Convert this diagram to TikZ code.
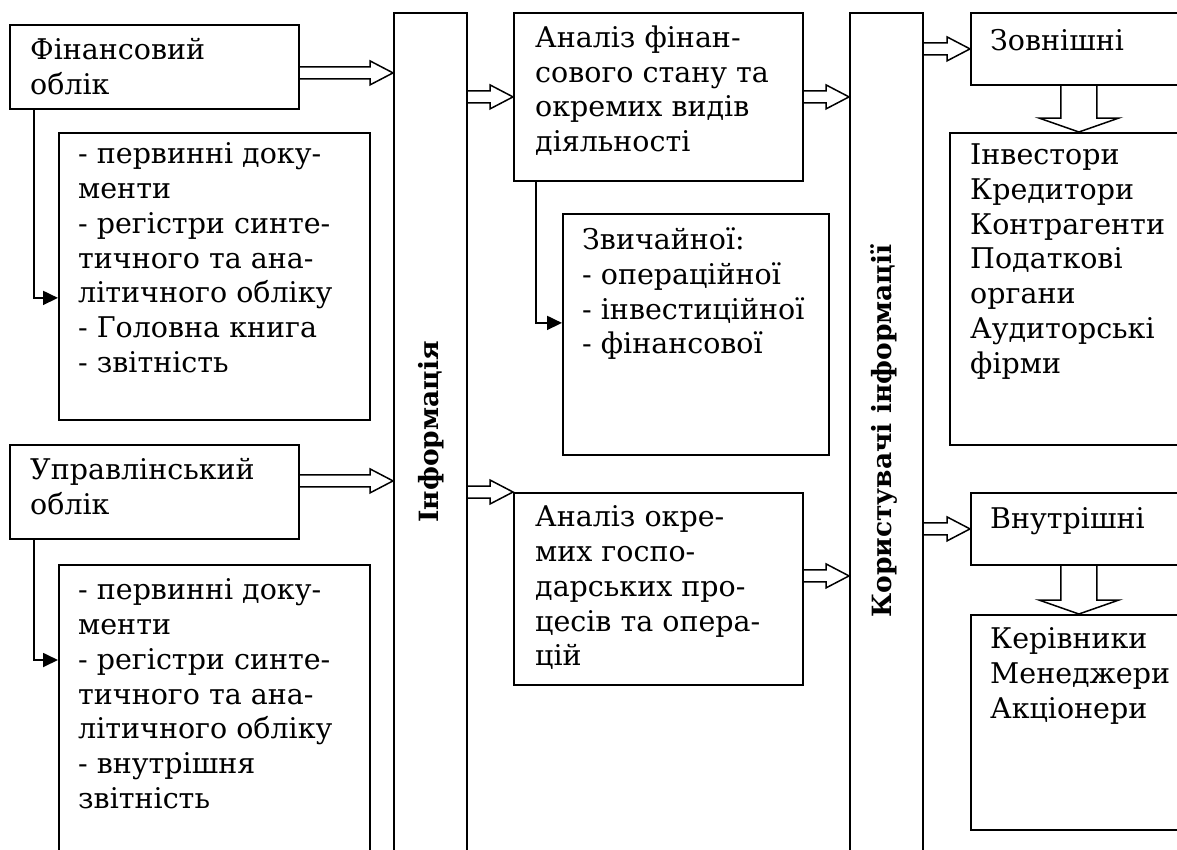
\documentclass[tikz,border=0pt]{standalone}
\usepackage{fontspec}
\setmainfont{DejaVu Serif}
\usetikzlibrary{arrows.meta,calc}
\begin{document}
\begin{tikzpicture}
      [
      x=1pt,y=-1pt,
      box/.style={draw,line width=1.8pt,rectangle,anchor=north west,inner sep=0pt},
      txt/.style={anchor=north west,align=left,inner sep=0pt,font=\fontsize{28.5}{34.8}\selectfont,execute at begin node=\strut},
      coltxt/.style={rotate=90,inner sep=0pt,font=\bfseries\fontsize{26.5}{32}\selectfont},
      harrow/.style={line width=1.5pt,to path={let \p1=(\tikztostart), \p2=(\tikztotarget) in
        (\x1,\y1+6pt) -- (\x2-23pt,\y1+6pt) -- (\x2-23pt,\y1+12pt) -- (\x2,\y1)
        -- (\x2-23pt,\y1-12pt) -- (\x2-23pt,\y1-6pt) -- (\x1,\y1-6pt)}},
      varrow/.style={line width=1.5pt,to path={let \p1=(\tikztostart), \p2=(\tikztotarget) in
        (\x1-18pt,\y1) -- (\x1-18pt,\y2+14pt) -- (\x1-40pt,\y2+14pt) -- (\x1,\y2)
        -- (\x1+40pt,\y2+14pt) -- (\x1+18pt,\y2+14pt) -- (\x1+18pt,\y1)}},
      bent/.style={line width=1.8pt,-{Triangle[length=15pt,width=14pt]}}
      ]
      \useasboundingbox (0,0) rectangle (1177,849);
      \clip (0,0) rectangle (1177,849);
      \node (fin) at (9,24) [box,minimum width=289pt,minimum height=84pt] {};
      \node (finList) at (58,132) [box,minimum width=311pt,minimum height=287pt] {};
      \node (upr) at (9,444) [box,minimum width=289pt,minimum height=94pt] {};
      \node (uprList) at (58,564) [box,minimum width=311pt,minimum height=330pt] {};
      \node (info) at (393,12) [box,minimum width=73pt,minimum height=860pt] {};
      \node (anFin) at (513,12) [box,minimum width=289pt,minimum height=168pt] {};
      \node (zvych) at (562,213) [box,minimum width=266pt,minimum height=241pt] {};
      \node (anProc) at (513,492) [box,minimum width=289pt,minimum height=192pt] {};
      \node (users) at (849,12) [box,minimum width=73pt,minimum height=860pt] {};
      \node (zovn) at (970,12) [box,minimum width=216pt,minimum height=72pt] {};
      \node (invest) at (949,132) [box,minimum width=258pt,minimum height=312pt] {};
      \node (vnutr) at (970,492) [box,minimum width=216pt,minimum height=72pt] {};
      \node (kerivn) at (970,614) [box,minimum width=216pt,minimum height=215pt] {};
      \node (finT) at (30,38.5) [txt] {Фінансовий\\облік};
      \node (finListT) at (78,142.5) [txt] {- первинні доку-\\менти\\- регістри синте-\\тичного та ана-\\літичного обліку\\- Головна книга\\- звітність};
      \node (uprT) at (30,458.5) [txt] {Управлінський\\облік};
      \node (uprListT) at (78,578.5) [txt] {- первинні доку-\\менти\\- регістри синте-\\тичного та ана-\\літичного обліку\\- внутрішня\\звітність};
      \node (infoT) at (431,432) [coltxt] {Інформація};
      \node (anFinT) at (535,25.5) [txt] {Аналіз фінан-\\сового стану та\\окремих видів\\діяльності};
      \node (zvychT) at (582,227.5) [txt] {Звичайної:\\- операційної\\- інвестиційної\\- фінансової};
      \node (anProcT) at (535,505.5) [txt] {Аналіз окре-\\мих госпо-\\дарських про-\\цесів та опера-\\цій};
      \node (usersT) at (884,431) [coltxt] {Користувачі інформації};
      \node (zovnT) at (990,25.5) [txt] {Зовнішні};
      \node (investT) at (970,143.5) [txt] {Інвестори\\Кредитори\\Контрагенти\\Податкові\\органи\\Аудиторські\\фірми};
      \node (vnutrT) at (990,503.5) [txt] {Внутрішні};
      \node (kerivnT) at (990,627.5) [txt] {Керівники\\Менеджери\\Акціонери};
      \draw [harrow] ([yshift=-6pt]fin.east) to (info.west);
      \draw [harrow] ([yshift=11pt]upr.east) to (info.west);
      \draw [harrow] (info.east |- anFin.west) to (anFin.west);
      \draw [harrow] (info.east |- anProc.north) to ([yshift=37pt]anProc.west);
      \draw [harrow] (anFin.east) to (users.west);
      \draw [harrow] ([yshift=13pt]anProc.east) to (users.west);
      \draw [harrow] (users.east |- zovn.west) to (zovn.west);
      \draw [harrow] (users.east |- vnutr.west) to (vnutr.west);
      \draw [varrow] (zovn.south) to (invest.north);
      \draw [varrow] (vnutr.south) to (kerivn.north);
      \draw [bent] ([xshift=25pt]fin.south west) |- ([yshift=-21.5pt]finList.west);
      \draw [bent] ([xshift=25pt]upr.south west) |- (uprList.west |- 0,660);
      \draw [bent] ([xshift=23pt]anFin.south west) |- ([yshift=11.5pt]zvych.west);
    \end{tikzpicture}
\end{document}
